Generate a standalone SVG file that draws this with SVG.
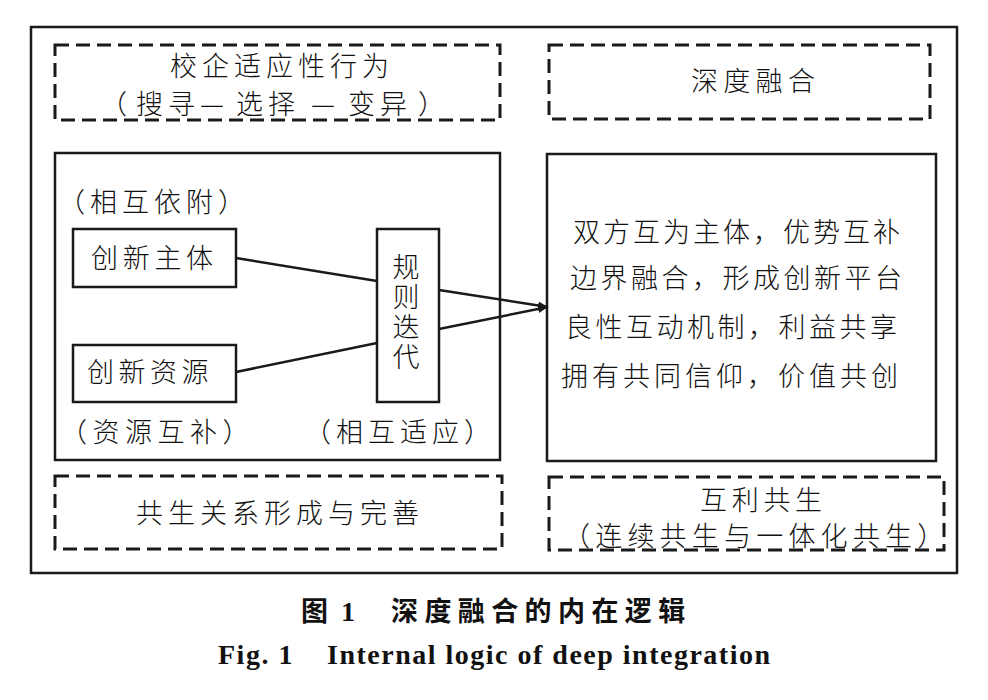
<svg xmlns="http://www.w3.org/2000/svg" width="988" height="700" viewBox="0 0 988 700">
  <style>
    .solid { fill: #ffffff; stroke: #1a1a1a; stroke-width: 2.5; }
    .dash { fill: none; stroke: #1a1a1a; stroke-width: 3; stroke-dasharray: 14 7; }
    .t { font-family: "Noto Sans CJK SC", sans-serif; font-size: 27px; font-weight: 300; fill: #111111; }
    .conn { stroke: #1a1a1a; stroke-width: 2.5; fill: none; }
    .capcn { font-family: "Noto Sans CJK SC", sans-serif; font-size: 27px; font-weight: 700; fill: #111111; }
    .capen { font-family: "Liberation Serif", "Times New Roman", serif; font-size: 28px; font-weight: 700; fill: #111111; letter-spacing: 1.5px; }
  </style>
  <defs>
    <marker id="arrow" markerUnits="userSpaceOnUse" markerWidth="10" markerHeight="8" refX="10" refY="4" orient="auto">
      <path d="M0,0 L10,4 L0,8 z" fill="#1a1a1a"/>
    </marker>
  </defs>
  <rect x="0" y="0" width="988" height="700" fill="#ffffff"/>

  <g id="frame">
    <rect class="solid" x="31" y="27" width="926" height="546"/>
  </g>

  <g id="adaptive-behavior">
    <rect class="dash" x="55" y="45" width="445" height="75"/>
    <text class="t" x="170" y="76" style="letter-spacing:5px">校企适应性行为</text>
    <text class="t" y="114" style="letter-spacing:5px"><tspan x="100">（</tspan><tspan x="136">搜寻— </tspan><tspan x="236">选择 </tspan><tspan x="311">— </tspan><tspan x="348">变异</tspan><tspan x="418">）</tspan></text>
  </g>

  <g id="deep-integration">
    <rect class="dash" x="549" y="45" width="381" height="74"/>
    <text class="t" x="691" y="91" style="letter-spacing:5.3px">深度融合</text>
  </g>

  <g id="left-panel">
    <rect class="solid" x="55" y="153" width="445" height="307"/>
    <text class="t" x="58" y="212" style="letter-spacing:5px">（相互依附）</text>
    <text class="t" x="60" y="442" style="letter-spacing:5.5px">（资源互补）</text>
    <text class="t" x="304" y="442" style="letter-spacing:5px">（相互适应）</text>
  </g>

  <g id="innovation-subject">
    <rect class="solid" x="73" y="229" width="163" height="58"/>
    <text class="t" x="91" y="268" style="letter-spacing:4.7px">创新主体</text>
  </g>

  <g id="innovation-resource">
    <rect class="solid" x="73" y="345" width="163" height="57"/>
    <text class="t" x="87" y="382" style="letter-spacing:4.5px">创新资源</text>
  </g>

  <g id="rule-iteration">
    <rect class="solid" x="377" y="229" width="62" height="173"/>
    <text class="t" x="406" y="253" writing-mode="vertical-rl" style="letter-spacing:3px">规则迭代</text>
  </g>

  <g id="integration-content">
    <rect class="solid" x="547" y="154" width="389" height="307"/>
    <text class="t" x="573" y="242" style="letter-spacing:3px">双方互为主体，优势互补</text>
    <text class="t" x="570" y="288" style="letter-spacing:3.5px">边界融合，形成创新平台</text>
    <text class="t" x="565" y="337" style="letter-spacing:3.5px">良性互动机制，利益共享</text>
    <text class="t" x="561" y="386" style="letter-spacing:4px">拥有共同信仰，价值共创</text>
  </g>

  <g id="symbiosis-formation">
    <rect class="dash" x="55" y="476" width="447" height="73"/>
    <text class="t" x="136" y="523" style="letter-spacing:5px">共生关系形成与完善</text>
  </g>

  <g id="mutual-benefit">
    <rect class="dash" x="549" y="477" width="395" height="73"/>
    <text class="t" x="700" y="510" style="letter-spacing:4.7px">互利共生</text>
    <text class="t" x="563" y="546" style="letter-spacing:5.2px">（连续共生与一体化共生）</text>
  </g>

  <g id="connectors">
    <line class="conn" x1="236" y1="258" x2="377" y2="281"/>
    <line class="conn" x1="236" y1="372" x2="377" y2="343"/>
    <line class="conn" x1="439" y1="290" x2="548" y2="307" marker-end="url(#arrow)"/>
    <line class="conn" x1="439" y1="329" x2="548" y2="307" marker-end="url(#arrow)"/>
  </g>

  <g id="caption">
    <text class="capcn" y="621"><tspan x="301">图</tspan><tspan x="341" style="font-family:'Liberation Serif', serif; font-size:28px">1</tspan><tspan x="391" style="letter-spacing:6.4px">深度融合的内在逻辑</tspan></text>
    <text class="capen" y="664"><tspan x="218">Fig. 1</tspan><tspan x="327">Internal logic of deep integration</tspan></text>
  </g>
</svg>
